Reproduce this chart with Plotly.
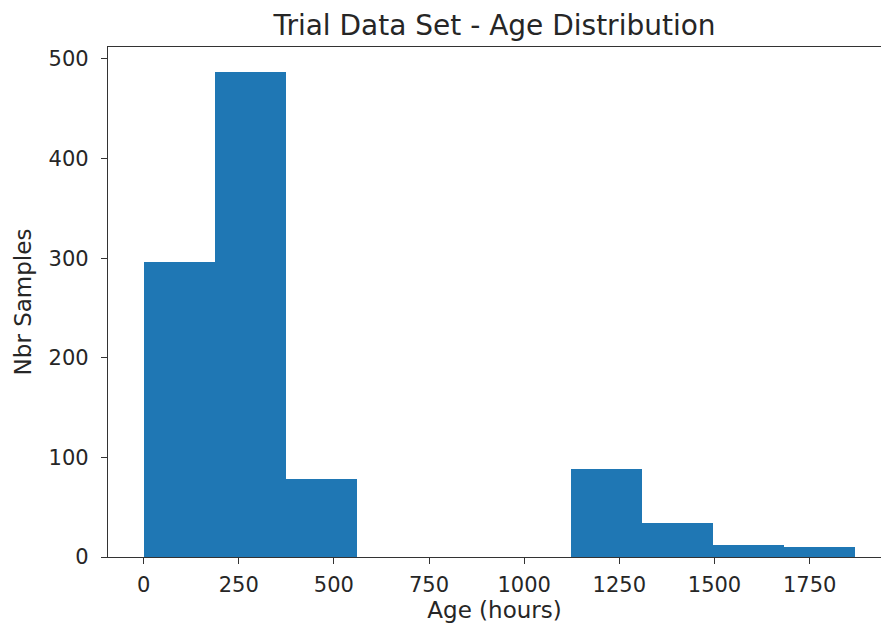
import plotly.graph_objects as go

# Age histogram: 10 equal-width bins between the min and max age
age_min = 0.0
age_max = 1870.0
bin_counts = [296, 487, 78, 0, 0, 0, 88, 34, 12, 10]

x_ticks = [0, 250, 500, 750, 1000, 1250, 1500, 1750]
y_ticks = [0, 100, 200, 300, 400, 500]

n_bins = len(bin_counts)
bin_width = (age_max - age_min) / n_bins
bin_lefts = [age_min + i * bin_width for i in range(n_bins)]

font_family = "DejaVu Sans"
text_color = "#262626"

fig = go.Figure(
    go.Bar(
        x=bin_lefts,
        y=bin_counts,
        width=[bin_width] * n_bins,
        offset=0,
        marker=dict(color="#1f77b4", line=dict(width=0)),
    )
)

fig.update_layout(
    width=881,
    height=630,
    margin=dict(l=108, r=0, t=47, b=73),
    paper_bgcolor="white",
    plot_bgcolor="white",
    showlegend=False,
    bargap=0,
    font=dict(family=font_family, color=text_color, size=21),
    title=dict(
        text="Trial Data Set - Age Distribution",
        x=0.5,
        xref="paper",
        y=1 - 25 / 630,
        yanchor="middle",
        font=dict(size=28, color=text_color),
    ),
)

fig.update_xaxes(
    range=[-93.5, 1937.5],
    tickmode="array",
    tickvals=x_ticks,
    ticks="outside",
    ticklen=6,
    tickwidth=1.2,
    tickcolor="#333",
    showline=True,
    linecolor="#333",
    linewidth=1.3,
    mirror=True,
    showgrid=False,
    zeroline=False,
    ticklabelstandoff=3,
    title=dict(text="Age (hours)", standoff=4, font=dict(size=23)),
)

fig.update_yaxes(
    range=[0, 512],
    tickmode="array",
    tickvals=y_ticks,
    ticks="outside",
    ticklen=6,
    tickwidth=1.2,
    tickcolor="#333",
    showline=True,
    linecolor="#333",
    linewidth=1.3,
    showgrid=False,
    zeroline=False,
    ticklabelstandoff=8,
    title=dict(text="Nbr Samples", standoff=10, font=dict(size=23)),
)

fig.write_html("out.html")
